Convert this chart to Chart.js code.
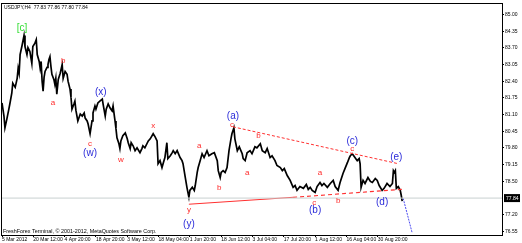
<!DOCTYPE html>
<html>
<head>
<meta charset="utf-8">
<script src="https://cdn.jsdelivr.net/npm/chart.js@4"></script>
<style>
  html, body { margin: 0; padding: 0; background: #fff; }
  #wrap { width: 522px; height: 243px; }
</style>
</head>
<body>
<div id="wrap"><canvas id="usdjpy"></canvas></div>
<script>
// USDJPY H4, bar index from 5 Mar 2012
const timeLabels = ['5 Mar 2012', '20 Mar 12:00', '4 Apr 20:00', '18 Apr 20:00', '3 May 12:00', '18 May 04:00',
  '1 Jun 20:00', '18 Jun 12:00', '3 Jul 04:00', '17 Jul 20:00', '1 Aug 12:00', '16 Aug 04:00', '30 Aug 20:00'];
const barsPerLabel = 64;
const lastBar = 1022;

const priceTicks = [85.00, 84.35, 83.70, 83.05, 82.40, 81.75, 81.10, 80.45, 79.80, 79.15, 78.50, 77.20, 76.55];
const lastPrice = 77.84;

const barIdx = [0, 4, 6, 10, 14, 16, 20, 22, 27, 31, 33, 35, 37, 41, 45, 47, 51, 53, 57, 61, 63, 67, 70, 72, 76, 78, 80, 82,
  84, 86, 88, 92, 94, 96, 98, 100, 102, 106, 108, 110, 112, 115, 119, 123, 125, 129, 133, 135, 139, 141, 143, 147, 149,
  151, 155, 160, 164, 168, 170, 174, 176, 178, 180, 184, 186, 190, 192, 196, 200, 205, 207, 211, 213, 217, 221, 225, 227,
  231, 233, 235, 239, 241, 243, 247, 252, 256, 258, 262, 264, 268, 272, 276, 282, 286, 288, 292, 299, 303, 309, 313, 317,
  319, 323, 327, 331, 333, 337, 339, 344, 348, 350, 354, 358, 364, 368, 370, 374, 378, 380, 382, 384, 389, 393, 395, 399,
  401, 405, 409, 413, 419, 423, 429, 434, 440, 442, 446, 448, 452, 456, 460, 464, 468, 470, 474, 476, 481, 485, 491, 493,
  497, 501, 507, 511, 517, 521, 528, 532, 538, 542, 548, 552, 558, 562, 569, 573, 577, 583, 589, 595, 599, 603, 609, 616,
  622, 626, 630, 634, 640, 644, 650, 654, 658, 665, 671, 677, 681, 687, 691, 697, 701, 706, 710, 712, 716, 720, 726, 730,
  732, 734, 738, 742, 748, 753, 757, 763, 767, 771, 777, 781, 787, 793, 798, 800, 802, 804, 806, 810, 814, 816, 818];
const closes = [81.55, 81.04, 80.58, 80.93, 81.31, 81.51, 81.93, 82.32, 82.16, 82.51, 82.90, 82.71, 83.44, 83.79, 84.18,
  83.75, 83.44, 83.71, 83.56, 83.09, 83.75, 83.87, 84.02, 83.44, 83.17, 82.90, 83.17, 82.40, 82.01, 82.55, 82.78, 82.94,
  83.05, 83.25, 83.36, 82.98, 82.67, 82.47, 82.28, 82.51, 81.89, 82.47, 82.71, 83.05, 82.51, 82.78, 82.67, 82.40, 82.09,
  81.78, 81.31, 81.51, 81.62, 81.27, 80.85, 81.12, 81.04, 81.16, 80.96, 80.85, 80.73, 80.54, 80.35, 80.85, 81.16, 81.43,
  81.31, 81.55, 81.62, 81.70, 81.47, 81.04, 81.31, 81.51, 81.35, 81.24, 81.43, 80.85, 80.54, 80.19, 79.96, 79.77, 80.07,
  80.27, 80.38, 80.15, 80.00, 79.77, 80.00, 79.88, 79.69, 79.80, 79.61, 79.77, 79.88, 79.80, 80.07, 80.15, 80.35, 80.23,
  80.07, 79.18, 79.30, 79.03, 79.30, 79.42, 80.00, 79.38, 79.49, 79.61, 79.69, 79.57, 79.69, 79.42, 79.30, 79.18, 78.72,
  78.26, 78.06, 77.87, 78.14, 78.26, 78.14, 78.33, 78.84, 79.03, 79.30, 79.57, 79.42, 79.69, 79.49, 79.57, 79.61, 79.30,
  78.91, 78.64, 78.84, 78.91, 78.84, 79.03, 79.69, 80.15, 80.35, 80.58, 80.15, 79.69, 79.84, 79.57, 79.38, 79.30, 79.61,
  79.69, 79.57, 79.84, 79.80, 79.96, 79.69, 79.61, 79.77, 79.42, 79.49, 79.30, 79.11, 79.03, 78.91, 78.99, 78.72, 78.53,
  78.26, 78.33, 78.14, 78.29, 78.22, 78.37, 78.18, 78.26, 78.14, 78.06, 78.29, 78.45, 78.33, 78.41, 78.26, 78.41, 78.53,
  78.29, 78.14, 78.45, 78.80, 78.99, 79.22, 79.42, 79.49, 79.57, 79.46, 79.30, 79.38, 79.18, 78.26, 78.53, 78.41, 78.64,
  78.49, 78.45, 78.60, 78.53, 78.33, 78.14, 78.22, 78.41, 78.29, 78.41, 78.91, 78.84, 78.91, 78.22, 78.29, 78.14, 77.95,
  77.72, 77.84];

// trend lines of the triangle and the projected move
const lowerSolidBars = [382, 595];
const lowerSolidPrices = [77.60, 77.87];
const lowerDashBars = [595, 818];
const lowerDashPrices = [77.87, 78.18];
const upperBars = [472, 810];
const upperPrices = [80.62, 79.18];
const projBars = [820, 838];
const projPrices = [77.83, 76.51];

// Elliott wave marks: text, bar, price, degree
const waveText = ['[c]', 'a', 'b', 'c', '(w)', '(x)', 'w', 'x', 'y', '(y)', 'a', 'b', 'c', '(a)', 'a', 'b', 'c', '(b)',
  'a', 'b', 'c', '(c)', '(d)', '(e)'];
const waveBar = [41, 104, 125, 180, 180, 202, 243, 309, 382, 382, 403, 444, 470, 472, 501, 524, 638, 640, 650, 687, 716,
  716, 777, 806];
const wavePrice = [84.45, 81.54, 83.21, 79.96, 79.57, 81.97, 79.34, 80.65, 77.37, 76.82, 79.88, 78.26, 80.69, 81.04, 78.84,
  80.27, 77.67, 77.37, 78.84, 77.75, 79.76, 80.04, 77.67, 79.45];
const waveDegree = ['primary', 'minute', 'minute', 'minute', 'minor', 'minor', 'minute', 'minute', 'minute', 'minor',
  'minute', 'minute', 'minute', 'minor', 'minute', 'minute', 'minute', 'minor', 'minute', 'minute', 'minute', 'minor',
  'minor', 'minor'];

const degreeStyle = {
  primary: { color: '#33dd33', font: '10px "Liberation Sans", Arial' },
  minor: { color: '#2b2bd9', font: '10px "Liberation Sans", Arial' },
  minute: { color: '#ff2a2a', font: '8px "Liberation Sans", Arial' }
};

const pts = (xs, ys) => xs.map((x, i) => ({ x: x, y: ys[i] }));

const overlay = {
  id: 'overlay',
  afterDatasetsDraw(chart) {
    const ctx = chart.ctx;
    const a = chart.chartArea;
    const xs = chart.scales.x, ys = chart.scales.y;
    ctx.save();
    ctx.textAlign = 'center';
    ctx.textBaseline = 'middle';
    waveText.forEach((t, i) => {
      const st = degreeStyle[waveDegree[i]];
      ctx.fillStyle = st.color;
      ctx.font = st.font;
      ctx.fillText(t, xs.getPixelForValue(waveBar[i]), ys.getPixelForValue(wavePrice[i]));
    });
    // frame
    ctx.strokeStyle = '#000';
    ctx.lineWidth = 1;
    ctx.strokeRect(a.left - 0.5, a.top - 0.5, a.right - a.left + 1, a.bottom - a.top + 1);
    // header and footer
    ctx.fillStyle = '#000';
    ctx.textAlign = 'left';
    ctx.font = '5px "Liberation Sans", Arial';
    ctx.fillText('USDJPY,H4  77.83 77.86 77.80 77.84', a.left + 2, a.top + 4);
    ctx.font = '5.4px "Liberation Sans", Arial';
    ctx.textBaseline = 'bottom';
    ctx.fillText('FreshForex Terminal, \u00a9 2001-2012, MetaQuotes Software Corp.', a.left + 1, a.bottom - 1);
    // last price tag
    const py = ys.getPixelForValue(lastPrice);
    ctx.fillStyle = '#000';
    ctx.fillRect(a.right + 2, py - 4, 16, 8);
    ctx.fillStyle = '#fff';
    ctx.font = '5px "Liberation Sans", Arial';
    ctx.textBaseline = 'middle';
    ctx.fillText(lastPrice.toFixed(2), a.right + 4, py + 0.5);
    ctx.restore();
  }
};

new Chart(document.getElementById('usdjpy'), {
  type: 'line',
  data: {
    datasets: [
      { data: [{ x: 0, y: lastPrice }, { x: lastBar, y: lastPrice }], borderColor: '#c8d0d0', borderWidth: 1 },
      { data: pts(lowerSolidBars, lowerSolidPrices), borderColor: '#ff3030', borderWidth: 1 },
      { data: pts(lowerDashBars, lowerDashPrices), borderColor: '#ff3030', borderWidth: 1.2, borderDash: [4, 3] },
      { data: pts(upperBars, upperPrices), borderColor: '#ff3030', borderWidth: 1, borderDash: [3, 2] },
      { data: pts(projBars, projPrices), borderColor: '#4b4bf0', borderWidth: 1, borderDash: [2, 1] },
      { data: pts(barIdx, closes), borderColor: '#000', borderWidth: 1.7 }
    ]
  },
  options: {
    responsive: true,
    maintainAspectRatio: false,
    animation: false,
    events: [],
    parsing: false,
    layout: { padding: { left: 2, top: 2, right: 2, bottom: 0 } },
    elements: { point: { radius: 0 }, line: { tension: 0 } },
    plugins: { legend: { display: false }, tooltip: { enabled: false } },
    scales: {
      x: {
        type: 'linear',
        min: 0,
        max: lastBar,
        afterBuildTicks: s => { s.ticks = timeLabels.map((l, i) => ({ value: i * barsPerLabel })); },
        afterFit: s => { s.height = 8; },
        border: { display: false },
        grid: { drawOnChartArea: false, tickLength: 2, color: '#000' },
        ticks: {
          autoSkip: false, maxRotation: 0, align: 'start', padding: 0, color: '#000',
          font: { size: 5, family: '"Liberation Sans", Arial' },
          callback: (v, i) => timeLabels[i]
        }
      },
      y: {
        position: 'right',
        min: 76.40,
        max: 85.41,
        afterBuildTicks: s => { s.ticks = priceTicks.map(v => ({ value: v })); },
        afterFit: s => { s.width = 18; },
        border: { display: false },
        grid: { drawOnChartArea: false, tickLength: 2, color: '#000' },
        ticks: {
          padding: 1, color: '#000',
          font: { size: 5, family: '"Liberation Sans", Arial' },
          callback: v => v.toFixed(2)
        }
      }
    }
  },
  plugins: [overlay]
});
</script>
</body>
</html>
